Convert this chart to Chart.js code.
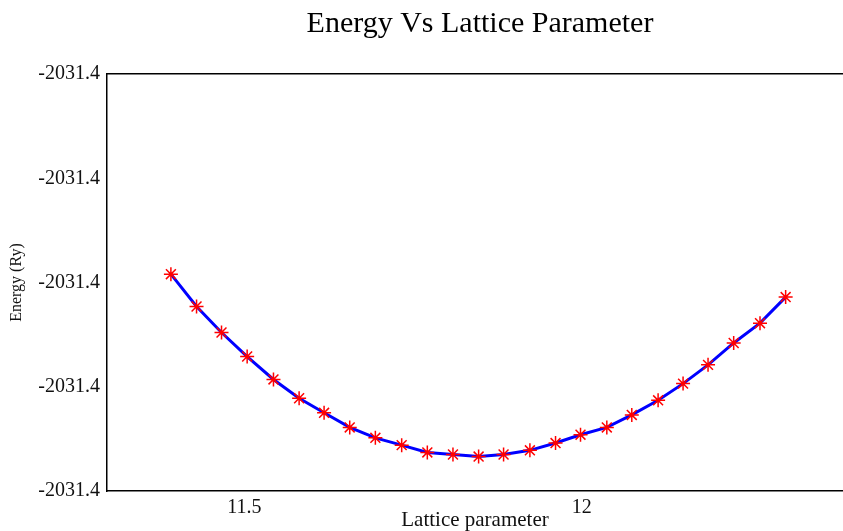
<!DOCTYPE html>
<html>
<head>
<meta charset="utf-8">
<title>Energy Vs Lattice Parameter</title>
<script src="https://cdn.jsdelivr.net/npm/chart.js"></script>
<style>
    body { margin: 0; background: #fff; }
    .chartBox { width: 843px; height: 531px; }
</style>
</head>
<body>
<div class="chartBox"><canvas id="energyChart"></canvas></div>
<script>
    // values
    var latticeParams = [11.391, 11.429, 11.466, 11.504, 11.543, 11.581, 11.618, 11.656, 11.694,
        11.733, 11.771, 11.809, 11.847, 11.884, 11.923, 11.961, 11.998, 12.037, 12.074,
        12.113, 12.150, 12.187, 12.225, 12.264, 12.302];
    var energies = [-2031.40192, -2031.40223, -2031.40248, -2031.40271, -2031.40293, -2031.40311,
        -2031.40325, -2031.40339, -2031.40349, -2031.40356, -2031.40363, -2031.40365, -2031.40367,
        -2031.40365, -2031.40361, -2031.40354, -2031.40346, -2031.40339, -2031.40327, -2031.40313,
        -2031.40297, -2031.40279, -2031.40258, -2031.40239, -2031.40214];
    var xTicks = [11.5, 12];
    var yTicks = [-2031.404, -2031.403, -2031.402, -2031.401, -2031.400];
    var xRange = [11.2963, 12.387];
    var yRange = [-2031.404, -2031.400];

    var points = latticeParams.map(function(x, i) {
        return {x: x, y: energies[i]};
    });

    var serif = '"Liberation Serif", "Times New Roman", serif';

    // the title sits over the centre of the plot box, not the canvas
    var plotTitle = {
        id: 'plotTitle',
        afterDraw: function(chart) {
            var ctx = chart.ctx;
            ctx.save();
            ctx.font = '30px ' + serif;
            ctx.fillStyle = '#000';
            ctx.textAlign = 'center';
            ctx.textBaseline = 'middle';
            ctx.fillText('Energy Vs Lattice Parameter', 480, 24);
            ctx.restore();
        }
    };

    var ctx = document.getElementById('energyChart').getContext('2d');
    var energyChart = new Chart(ctx, {
        type: 'line',
        data: {
            datasets: [{
                data: points,
                borderColor: '#0000ff',
                borderWidth: 3,
                tension: 0,
                pointStyle: 'star',
                pointRadius: 7,
                pointBorderColor: '#ff0000',
                pointBackgroundColor: '#ff0000',
                pointBorderWidth: 1.5
            }]
        },
        plugins: [plotTitle],
        options: {
            responsive: true,
            maintainAspectRatio: false,
            animation: false,
            layout: {
                autoPadding: false,
                padding: { top: 74, left: 0, right: 0, bottom: 0 }
            },
            plugins: {
                legend: { display: false },
                tooltip: { enabled: false }
            },
            scales: {
                x: {
                    type: 'linear',
                    position: 'bottom',
                    min: xRange[0],
                    max: xRange[1],
                    afterBuildTicks: function(s) {
                        s.ticks = xTicks.map(function(v) { return {value: v}; });
                    },
                    afterFit: function(s) { s.height = 40; },
                    grid: { display: false, drawTicks: false },
                    border: { display: true, color: '#000', width: 1.5 },
                    ticks: {
                        padding: 5,
                        color: '#111',
                        font: { family: serif, size: 20 },
                        maxRotation: 0,
                        callback: function(v) { return String(v); }
                    },
                    title: {
                        display: true,
                        text: 'Lattice parameter',
                        color: '#111',
                        font: { family: serif, size: 21, lineHeight: 1 },
                        padding: { top: 0, bottom: 0 }
                    }
                },
                x2: {
                    type: 'linear',
                    axis: 'x',
                    position: 'top',
                    min: xRange[0],
                    max: xRange[1],
                    afterFit: function(s) { s.height = 0; },
                    grid: { display: false, drawTicks: false },
                    border: { display: true, color: '#000', width: 1.5 },
                    ticks: { display: false }
                },
                y: {
                    min: yRange[0],
                    max: yRange[1],
                    afterBuildTicks: function(s) {
                        s.ticks = yTicks.map(function(v) { return {value: v}; });
                    },
                    afterFit: function(s) { s.width = 107; },
                    grid: { display: false, drawTicks: false },
                    border: { display: true, color: '#000', width: 1.5 },
                    ticks: {
                        padding: 7,
                        color: '#111',
                        font: { family: serif, size: 20 },
                        callback: function(v) { return v.toFixed(1); }
                    },
                    title: {
                        display: true,
                        text: 'Energy (Ry)',
                        color: '#111',
                        font: { family: serif, size: 16, lineHeight: 1 },
                        padding: { top: 9, bottom: 0 }
                    }
                }
            }
        }
    });
</script>
</body>
</html>
